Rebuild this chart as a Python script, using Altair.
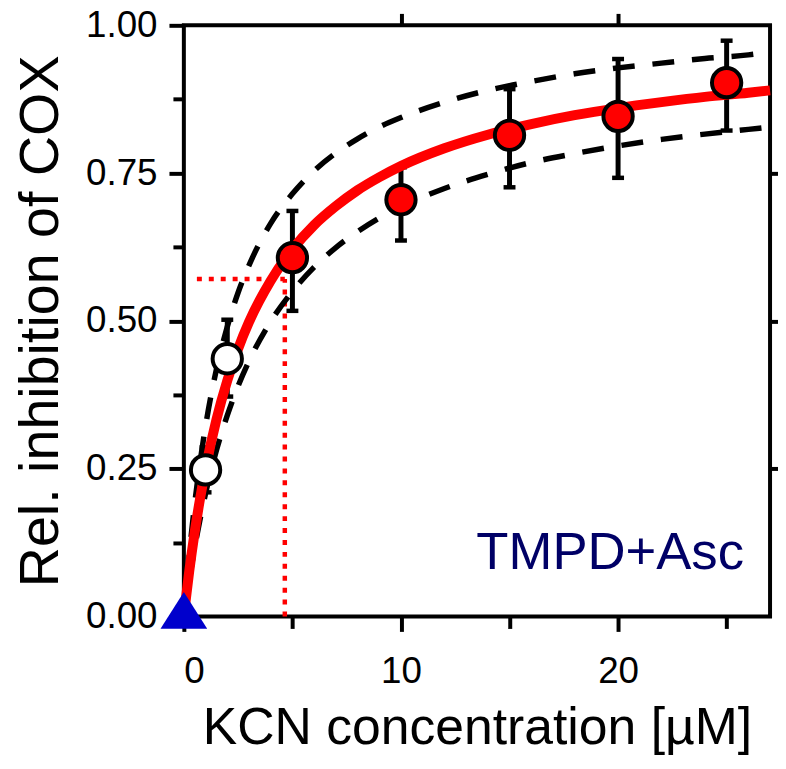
import altair as alt
import pandas as pd

# ---- fitted inhibition curve and its confidence band ----
curve_x = [0, 0.1, 0.25, 0.5, 0.75, 1, 1.5, 2, 2.5, 3, 4, 5, 6, 7, 8, 9, 10,
           12, 14, 16, 18, 20, 22, 24, 26, 27]
fit_y = [0, 0.032, 0.077, 0.143, 0.200, 0.250, 0.333, 0.399, 0.453, 0.498,
         0.568, 0.621, 0.662, 0.694, 0.721, 0.743, 0.762, 0.792, 0.815, 0.833,
         0.848, 0.860, 0.870, 0.879, 0.886, 0.890]
upper_y = [0, 0.045, 0.105, 0.191, 0.262, 0.322, 0.418, 0.490, 0.548, 0.594,
           0.665, 0.715, 0.754, 0.784, 0.808, 0.828, 0.844, 0.870, 0.890, 0.905,
           0.918, 0.928, 0.936, 0.944, 0.950, 0.955]
lower_y = [0, 0.026, 0.062, 0.117, 0.165, 0.208, 0.281, 0.340, 0.390, 0.432,
           0.499, 0.550, 0.591, 0.624, 0.651, 0.674, 0.693, 0.724, 0.748, 0.768,
           0.783, 0.796, 0.807, 0.816, 0.824, 0.828]

# ---- measured points ----
kcn_red = [5, 10, 15, 20, 25]
inh_red = [0.607, 0.705, 0.814, 0.846, 0.903]
lo_red = [0.517, 0.636, 0.726, 0.742, 0.822]
hi_red = [0.686, 0.760, 0.892, 0.943, 0.974]

kcn_open = [1, 2]
inh_open = [0.248, 0.436]
lo_open = [0.210, 0.372]
hi_open = [0.286, 0.502]

kcn_zero = [0]
inh_zero = [0]

# dotted marker lines
mark_x = [4.65]
mark_y = [0.571]
mark_x_start = [0.6]

# ---- tick values ----
x_major = [0, 10, 20]
x_minor = [5, 15, 25]
x_top = [10, 20]
y_major = [0, 0.25, 0.5, 0.75, 1.0]
y_minor = [0.125, 0.375, 0.625, 0.875]
y_right = [0.25, 0.5, 0.75]

curve = pd.DataFrame({"x": curve_x, "fit": fit_y, "up": upper_y, "lo": lower_y})
red = pd.DataFrame({"x": kcn_red, "y": inh_red, "lo": lo_red, "hi": hi_red})
opn = pd.DataFrame({"x": kcn_open, "y": inh_open, "lo": lo_open, "hi": hi_open})
zero = pd.DataFrame({"x": kcn_zero, "y": inh_zero})
marker = pd.DataFrame({"x0": mark_x_start, "x": mark_x, "y": mark_y, "y0": [0]})
errs = pd.concat([red, opn], ignore_index=True)

xs = alt.Scale(domain=[0, 27], nice=False, zero=False)
ys = alt.Scale(domain=[0, 1], nice=False, zero=False)

FONT = "Liberation Sans"

axA_x = alt.Axis(orient="bottom", values=x_major, tickSize=15, labelPadding=22,
                 labelFontSize=37, title="KCN concentration [µM]",
                 titleFontSize=52, titlePadding=14)
axA_y = alt.Axis(orient="left", values=y_major, format=".2f", tickSize=15,
                 labelPadding=12, labelFontSize=37,
                 title="Rel. inhibition of COX", titleFontSize=56, titlePadding=16)
axB_x = alt.Axis(orient="bottom", values=x_minor, tickSize=12, labels=False, title=None)
axB_y = alt.Axis(orient="left", values=y_minor, tickSize=11, labels=False, title=None)
axC_x = alt.Axis(orient="top", values=x_top, tickSize=12, labels=False, title=None)
axC_y = alt.Axis(orient="right", values=y_right, tickSize=12, labels=False, title=None)

hline = alt.Chart(marker).mark_rule(color="#ff0000", strokeWidth=4.5,
                                    strokeDash=[5, 7]).encode(
    x=alt.X("x0:Q", scale=xs, axis=None), x2="x:Q",
    y=alt.Y("y:Q", scale=ys, axis=None))
vline = alt.Chart(marker).mark_rule(color="#ff0000", strokeWidth=4.5,
                                    strokeDash=[5, 7]).encode(
    x=alt.X("x:Q", scale=xs, axis=None),
    y=alt.Y("y0:Q", scale=ys, axis=None), y2="y:Q")

upper = alt.Chart(curve).mark_line(color="black", strokeWidth=5.5,
                                   strokeDash=[22, 18], interpolate="monotone").encode(
    x=alt.X("x:Q", scale=xs, axis=axB_x),
    y=alt.Y("up:Q", scale=ys, axis=axB_y))
lower = alt.Chart(curve).mark_line(color="black", strokeWidth=5.5,
                                   strokeDash=[22, 18], interpolate="monotone").encode(
    x=alt.X("x:Q", scale=xs, axis=axC_x),
    y=alt.Y("lo:Q", scale=ys, axis=axC_y))

ebars = alt.Chart(errs).mark_rule(color="black", strokeWidth=5).encode(
    x=alt.X("x:Q", scale=xs, axis=None),
    y=alt.Y("lo:Q", scale=ys, axis=None), y2="hi:Q")
cap_lo = alt.Chart(errs).mark_tick(color="black", orient="horizontal", size=12,
                                   thickness=4.5, opacity=1).encode(
    x=alt.X("x:Q", scale=xs, axis=None), y=alt.Y("lo:Q", scale=ys, axis=None))
cap_hi = alt.Chart(errs).mark_tick(color="black", orient="horizontal", size=12,
                                   thickness=4.5, opacity=1).encode(
    x=alt.X("x:Q", scale=xs, axis=None), y=alt.Y("hi:Q", scale=ys, axis=None))

fit = alt.Chart(curve).mark_line(color="#ff0000", strokeWidth=10,
                                 interpolate="monotone").encode(
    x=alt.X("x:Q", scale=xs, axis=axA_x),
    y=alt.Y("fit:Q", scale=ys, axis=axA_y))

red_pts = alt.Chart(red).mark_point(shape="circle", filled=True, fill="#ff0000",
                                    stroke="black", strokeWidth=4, size=870,
                                    opacity=1).encode(
    x=alt.X("x:Q", scale=xs, axis=None), y=alt.Y("y:Q", scale=ys, axis=None))
open_pts = alt.Chart(opn).mark_point(shape="circle", filled=True, fill="white",
                                     stroke="black", strokeWidth=4, size=870,
                                     opacity=1).encode(
    x=alt.X("x:Q", scale=xs, axis=None), y=alt.Y("y:Q", scale=ys, axis=None))
tri = alt.Chart(zero).mark_point(shape="M0,-1.05L-1,0.53L1,0.53Z", filled=True,
                                 fill="#0000cc", strokeWidth=0, size=2209,
                                 opacity=1).encode(
    x=alt.X("x:Q", scale=xs, axis=None), y=alt.Y("y:Q", scale=ys, axis=None))

label = alt.Chart(zero).mark_text(text="TMPD+Asc", font=FONT, fontSize=53,
                                  color="#000066", align="right",
                                  baseline="alphabetic").encode(
    x=alt.XDatum(25.8, scale=xs, axis=None),
    y=alt.YDatum(0.081, scale=ys, axis=None))

chart = alt.layer(
    hline, vline, upper, lower, ebars, cap_lo, cap_hi, fit, red_pts, open_pts, tri, label
).resolve_axis(x="independent", y="independent").properties(
    width=590, height=595,
    autosize=alt.AutoSizeParams(type="none"),
    padding={"left": 177, "top": 15, "right": 8, "bottom": 140},
    background="white",
).configure_axis(
    grid=False, domain=False, tickColor="black", tickWidth=4,
    labelColor="black", titleColor="black", labelFont=FONT, titleFont=FONT,
    titleFontWeight="normal",
).configure_view(stroke="black", strokeWidth=4)

chart.save("out.html", embed_options={"renderer": "svg", "actions": False})
